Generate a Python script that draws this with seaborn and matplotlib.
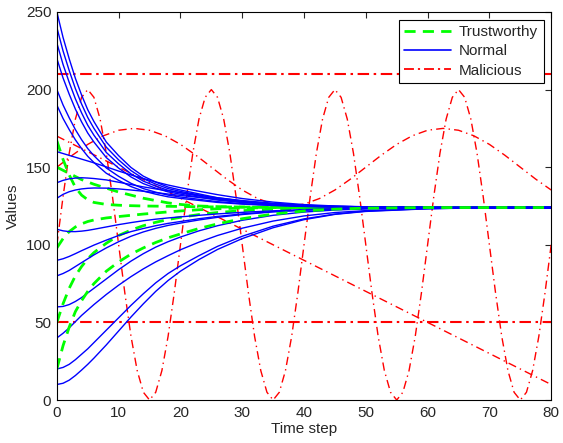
import numpy as np
import pandas as pd
import matplotlib
matplotlib.use("Agg")
import matplotlib.pyplot as plt
import seaborn as sns
from matplotlib.lines import Line2D

# time steps used for the converging (normal / trustworthy) curves
steps = [0, 1, 2, 3, 4, 5, 6, 8, 10, 12, 14, 16, 18, 20, 23, 26, 30, 35, 40, 45, 50, 60, 70, 80]

normal = [
    [250, 233.6, 219.8, 207.2, 196.5, 187, 179.4, 166.2, 157.4, 149.8, 144.2, 140.4, 137.2, 135.3, 132.8, 130.3, 128.2, 126.5, 125.3, 124.6, 124.3, 124, 124, 124],
    [240, 224.9, 212.2, 200.6, 190.7, 182, 175, 162.9, 154.7, 147.8, 142.6, 139.1, 136.2, 134.4, 132.1, 129.8, 127.8, 126.3, 125.2, 124.6, 124.2, 124, 124, 124],
    [230, 216.2, 204.6, 194, 185, 177, 170.6, 159.5, 152.1, 145.7, 141, 137.8, 135.1, 133.5, 131.4, 129.3, 127.5, 126.1, 125.1, 124.5, 124.2, 124, 124, 124],
    [220, 207.5, 197, 187.4, 179.2, 172, 166.2, 156.2, 149.4, 143.7, 139.4, 136.5, 134.1, 132.6, 130.7, 128.8, 127.2, 125.9, 125, 124.5, 124.2, 124, 124, 124],
    [200, 190.1, 181.8, 174.2, 167.7, 162, 157.4, 149.5, 144.1, 139.6, 136.2, 133.9, 132, 130.8, 129.3, 127.8, 126.5, 125.5, 124.8, 124.4, 124.2, 124, 124, 124],
    [190, 181.4, 174.2, 167.6, 162, 157, 153, 146.1, 141.5, 137.5, 134.6, 132.6, 130.9, 129.9, 128.6, 127.3, 126.2, 125.3, 124.7, 124.3, 124.1, 124, 124, 124],
    [160, 158.8, 157.6, 156.4, 155.2, 154, 152.8, 150.2, 147.5, 145, 142.7, 140.5, 138.5, 136.8, 134.5, 132.3, 129.8, 127.5, 125.9, 125, 124.5, 124.1, 124, 124],
    [140, 141.5, 142.5, 143, 143.2, 143, 142.7, 141.8, 140.3, 138.8, 137.3, 136, 134.8, 133.6, 131.9, 130.3, 128.5, 126.7, 125.5, 124.8, 124.4, 124.1, 124, 124],
    [130, 132.5, 134.2, 135.3, 136, 136.4, 136.6, 136.5, 136, 135.3, 134.5, 133.6, 132.7, 131.8, 130.5, 129.3, 127.8, 126.4, 125.4, 124.8, 124.4, 124.1, 124, 124],
    [110, 109, 108.5, 108.5, 108.8, 109.3, 110, 111.5, 113, 114.3, 115.5, 116.5, 117.3, 118, 119, 119.9, 120.9, 121.9, 122.7, 123.2, 123.5, 123.8, 124, 124],
    [90, 91, 92.5, 94.3, 96.2, 98, 99.8, 103, 106, 108.5, 110.5, 112.3, 113.8, 115, 116.8, 118.3, 119.9, 121.4, 122.4, 123, 123.4, 123.8, 124, 124],
    [80, 81.5, 83.5, 86, 88.5, 91, 93.5, 98, 102, 105.5, 108.3, 110.6, 112.5, 114, 116, 117.7, 119.5, 121.2, 122.3, 123, 123.4, 123.8, 124, 124],
    [60, 60.3, 61.5, 63.5, 66, 69, 72, 78, 84, 89.5, 94.3, 98.5, 102, 105, 109, 112.3, 115.8, 119, 121.1, 122.4, 123.1, 123.7, 124, 124],
    [40, 43, 46.5, 50.5, 54.5, 58, 61.5, 68, 74, 79.5, 84.5, 89, 93, 96.8, 101.7, 106, 110.7, 115.3, 118.6, 120.8, 122, 123.4, 123.9, 124],
    [20, 21, 23, 26, 29.5, 33, 37, 45, 53, 61, 68.5, 75.5, 81.5, 86.5, 93, 99, 105.5, 112, 116.7, 119.8, 121.7, 123.3, 123.9, 124],
    [10, 10.8, 12.8, 15.8, 19.3, 23, 27, 35.5, 44.5, 53.5, 62, 70, 77, 83, 90.5, 97, 104, 111, 116.2, 119.6, 121.5, 123.2, 123.9, 124],
]

trustworthy = [
    [167, 155, 145, 137, 132, 129, 127.3, 126, 125.5, 125.2, 125, 124.9, 124.8, 124.7, 124.5, 124.4, 124.3, 124.2, 124.1, 124.1, 124, 124, 124, 124],
    [150, 148, 146, 144, 142, 140.5, 139, 136.5, 134, 132, 130, 128.5, 127, 126, 125, 124.6, 124.3, 124.2, 124.1, 124, 124, 124, 124, 124],
    [98, 104, 108.5, 111.5, 113.5, 115, 116, 117.3, 118.2, 119, 119.8, 120.5, 121.2, 121.8, 122.6, 123.2, 123.7, 124, 124, 124, 124, 124, 124, 124],
    [50, 62, 72, 80, 86, 91, 95, 101, 106, 109.5, 112.3, 114.5, 116.3, 117.7, 119.5, 120.8, 122, 123, 123.6, 123.9, 124, 124, 124, 124],
    [20, 35, 47, 57, 64, 70, 75, 83, 89, 94, 98, 101.5, 104.5, 107, 110.5, 113.5, 116.8, 119.8, 121.8, 123, 123.6, 124, 124, 124],
]

# malicious nodes
fast_t = list(range(0, 81))
fast_v = [100, 131, 159, 181, 195, 200, 195, 181, 159, 131, 100, 69, 41, 19, 5, 0, 5, 19, 41, 69,
          100, 131, 159, 181, 195, 200, 195, 181, 159, 131, 100, 69, 41, 19, 5, 0, 5, 19, 41, 69,
          100, 131, 159, 181, 195, 200, 195, 181, 159, 131, 100, 69, 41, 19, 5, 0, 5, 19, 41, 69,
          100, 131, 159, 181, 195, 200, 195, 181, 159, 131, 100, 69, 41, 19, 5, 0, 5, 19, 41, 69,
          100]
slow_t = [0, 2.5, 5, 7.5, 10, 12.5, 15, 17.5, 20, 22.5, 25, 27.5, 30, 32.5, 35, 37.5, 40,
          42.5, 45, 47.5, 50, 52.5, 55, 57.5, 60, 62.5, 65, 67.5, 70, 72.5, 75, 77.5, 80]
slow_v = [150, 157.7, 164.7, 170.2, 173.8, 175, 173.8, 170.2, 164.7, 157.7, 150, 142.3, 135.3, 129.8, 126.2, 125, 126.2,
          129.8, 135.3, 142.3, 150, 157.7, 164.7, 170.2, 173.8, 175, 173.8, 170.2, 164.7, 157.7, 150, 142.3, 135.3]
ramp_t = [0, 80]
ramp_v = [170, 10]
const_t = [0, 80]
high_v = [210, 210]
low_v = [50, 50]

sns.set_style("white")
plt.rcParams['font.family'] = ['Liberation Sans', 'DejaVu Sans']

fig = plt.figure(figsize=(5.63, 4.43), dpi=100)
ax = fig.add_axes([0.101, 0.097, 0.878, 0.876])

red = (1, 0, 0)
green = (0, 1, 0)
blue = (0, 0, 1)
green_dash = (0, (4, 2.6))
thin_dashdot = (0, (6, 3, 1, 3))
thick_dashdot = (0, (5.5, 2.2, 1.2, 2.2))

sns.lineplot(x=const_t, y=high_v, ax=ax, color=red, linestyle=thick_dashdot, linewidth=1.5)
sns.lineplot(x=const_t, y=low_v, ax=ax, color=red, linestyle=thick_dashdot, linewidth=1.5)
sns.lineplot(x=fast_t, y=fast_v, ax=ax, color=red, linestyle=thin_dashdot, linewidth=1)
sns.lineplot(x=slow_t, y=slow_v, ax=ax, color=red, linestyle=thin_dashdot, linewidth=1)
sns.lineplot(x=ramp_t, y=ramp_v, ax=ax, color=red, linestyle=thin_dashdot, linewidth=1)

# most trustworthy curves sit under the normal ones, the last one on top
for vals in trustworthy[:-1]:
    sns.lineplot(x=steps, y=vals, ax=ax, color=green, linestyle=green_dash, linewidth=2)
for vals in normal:
    sns.lineplot(x=steps, y=vals, ax=ax, color=blue, linewidth=1)
sns.lineplot(x=steps, y=trustworthy[-1], ax=ax, color=green, linestyle=green_dash, linewidth=2)

ax.set_xlim(0, 80)
ax.set_ylim(0, 250)
ax.set_xticks(range(0, 81, 10))
ax.set_yticks(range(0, 251, 50))
ax.tick_params(direction='in', top=True, right=True, length=4, labelsize=11, width=0.8, pad=4)
for s in ax.spines.values():
    s.set_color('black')
    s.set_linewidth(0.8)
ax.set_xlabel('Time step', fontsize=11, labelpad=2)
ax.set_ylabel('Values', fontsize=11, labelpad=4)

handles = [
    Line2D([], [], color=green, linestyle=green_dash, linewidth=2),
    Line2D([], [], color=blue, linewidth=1.2),
    Line2D([], [], color=red, linestyle=(0, (5.5, 2.2, 1.2, 2.2)), linewidth=1.3),
]
leg = ax.legend(handles, ['Trustworthy', 'Normal', 'Malicious'], loc='upper right',
                fontsize=11, frameon=True, fancybox=False, framealpha=1, handlelength=3.1,
                borderaxespad=0.5, labelspacing=0.35, handletextpad=0.5, borderpad=0.35)
leg.get_frame().set_edgecolor('black')
leg.get_frame().set_linewidth(0.8)

fig.savefig('out.png', dpi=100)
